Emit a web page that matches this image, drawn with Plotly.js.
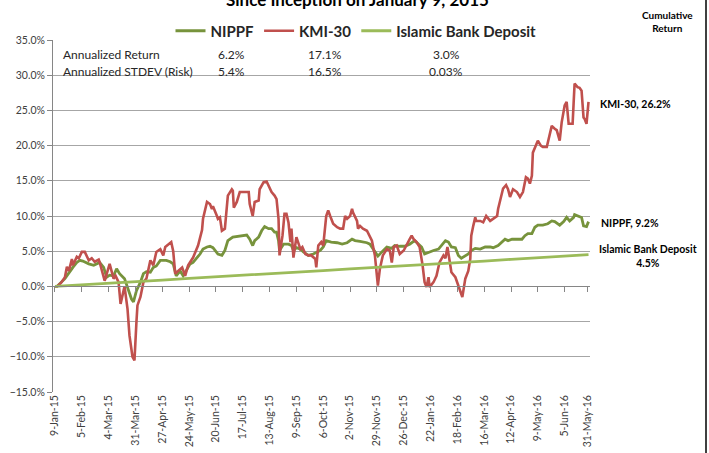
<!DOCTYPE html>
<html>
<head>
<meta charset="utf-8">
<script src="https://cdn.plot.ly/plotly-3.0.1.min.js"></script>
<style>html,body{margin:0;padding:0;background:#fff;}#chart{width:709px;height:453px;}</style>
</head>
<body>
<div id="chart"></div>
<script>
// ---- data (day offsets from 9-Jan-2015, cumulative return in %) ----
const tickDays = [0,27,54,81,108,135,162,189,216,243,270,297,324,351,378,405,432,459,486,513,536];
const tickLabels = ["9-Jan-15","5-Feb-15","4-Mar-15","31-Mar-15","27-Apr-15","24-May-15","20-Jun-15","17-Jul-15","13-Aug-15","9-Sep-15","6-Oct-15","2-Nov-15","29-Nov-15","26-Dec-15","22-Jan-16","18-Feb-16","16-Mar-16","12-Apr-16","9-May-16","5-Jun-16","31-May-16"];

const kmiDays = [0,2,6,10,12,14,17,18,22,24,27,30,34,37,40,44,45,50,55,59,61,64,66,68,70,73,75,78,80,82,83,86,89,92,96,99,102,106,109,111,114,117,119,121,124,128,131,134,139,144,148,149,153,156,158,159,163,164,166,168,171,173,174,178,179,180,183,186,190,195,196,199,201,205,206,210,213,215,218,221,223,225,226,229,231,233,235,237,238,240,242,243,247,249,252,255,258,262,263,265,268,270,273,275,277,280,284,287,290,292,294,297,299,300,304,305,307,310,314,317,319,322,324,325,327,330,334,337,339,341,344,347,351,354,357,359,361,364,367,370,372,374,376,377,381,384,387,391,393,395,397,399,403,406,409,410,413,416,418,419,421,423,424,428,431,434,438,441,445,446,448,451,454,456,458,461,465,468,471,474,476,478,480,481,484,486,489,491,495,498,500,503,505,508,510,513,515,517,521,522,523,526,528,530,532,533,535,537];
const kmiValues = [0.0,0.0,0.5,1.3,2.8,2.2,3.9,3.0,4.2,4.0,4.9,4.9,3.7,4.0,3.5,3.8,3.4,0.8,3.2,1.1,1.5,0.6,-2.5,-1.1,0.0,-3.2,-7.0,-10.0,-10.5,-5.0,-2.7,-1.5,0.6,1.1,3.7,3.0,4.9,5.3,4.4,5.6,6.0,6.3,5.0,1.8,2.2,2.7,1.5,3.0,4.1,5.8,8.0,9.6,12.0,11.7,11.0,11.4,10.0,9.6,9.8,7.9,8.2,11.0,12.9,13.8,13.6,11.2,12.0,13.4,13.4,13.4,11.7,10.0,12.0,12.2,13.8,14.8,14.9,14.3,13.4,12.9,12.4,9.6,4.4,7.2,10.3,10.3,9.1,6.3,8.2,4.1,5.8,7.0,5.3,5.6,4.6,4.4,4.4,3.9,2.7,5.8,6.3,5.8,10.0,10.8,10.0,8.9,8.4,8.2,8.2,10.0,9.6,10.0,11.0,10.5,9.3,8.2,8.6,8.2,7.9,7.0,6.5,4.4,1.5,0.1,2.5,4.4,5.3,5.1,3.4,5.6,5.8,4.6,5.1,5.8,6.7,7.2,6.7,6.3,5.6,3.0,0.6,-0.1,1.3,-0.1,0.6,1.5,3.4,4.4,4.0,5.6,4.0,2.0,1.3,0.1,-1.1,-1.5,1.1,2.2,3.9,7.2,8.6,9.8,9.3,9.3,9.1,10.0,9.3,9.6,10.0,11.0,12.2,13.9,14.4,13.8,12.7,13.8,13.4,12.7,13.4,15.5,15.3,14.6,15.7,19.0,20.0,20.7,20.0,19.8,19.8,21.9,22.8,22.4,22.2,20.7,23.3,25.7,26.2,23.1,23.1,26.0,28.8,28.3,28.2,27.8,24.0,23.8,23.1,26.2];

const nippfDays = [0,2,10,15,18,22,25,28,34,39,42,45,49,52,55,59,62,65,70,74,77,79,82,86,89,92,96,99,102,106,109,112,116,119,122,126,129,133,136,139,143,146,149,153,156,159,164,168,171,174,179,184,190,193,196,199,201,205,208,211,215,218,221,223,225,226,230,235,238,240,243,247,250,255,260,263,267,270,273,278,284,289,294,299,302,307,314,317,320,324,325,329,334,339,342,347,352,357,362,366,369,372,377,381,386,389,393,396,399,403,406,409,413,416,419,423,428,433,438,441,446,450,453,456,460,465,470,473,476,480,483,486,491,496,500,503,507,508,512,515,518,522,523,527,530,532,533,535,537];
const nippfValues = [0.0,0.0,1.1,2.2,2.7,3.4,3.7,3.6,3.2,3.0,3.2,3.4,2.7,1.3,1.6,1.5,2.5,1.8,1.1,-0.6,-1.8,-2.2,-0.6,0.6,1.8,2.1,2.0,2.7,2.9,3.7,3.7,3.7,3.5,3.2,1.5,2.2,1.5,2.5,3.2,3.4,4.1,4.6,5.3,5.6,5.7,5.5,4.6,4.4,5.1,6.5,7.0,7.1,7.3,7.3,6.7,5.8,6.5,7.0,7.9,8.5,8.2,8.2,7.7,7.7,6.5,5.1,6.0,6.0,5.8,5.1,5.5,5.3,4.9,4.4,4.6,4.8,5.1,5.6,6.5,6.3,6.2,6.0,6.2,6.7,6.5,6.4,6.2,6.0,5.3,4.4,4.3,4.9,5.6,5.4,5.8,5.7,5.7,6.0,6.5,6.0,5.6,4.6,4.9,5.1,5.3,5.8,6.5,6.3,5.6,5.5,4.4,4.0,4.4,4.6,5.1,5.4,5.3,5.6,5.6,5.5,5.8,6.4,6.7,6.5,6.7,6.7,6.7,7.2,7.5,7.5,8.4,8.7,8.7,8.9,9.3,9.2,8.7,8.7,9.2,9.8,9.3,9.8,10.2,10.0,9.8,8.6,8.6,8.5,9.2];

const depositDays = [0,27,54,81,108,135,162,189,216,243,270,297,324,351,378,405,432,459,486,513,537];
const depositValues = [0.0,0.2,0.45,0.7,0.9,1.15,1.35,1.6,1.8,2.05,2.25,2.5,2.7,2.95,3.15,3.4,3.6,3.85,4.05,4.3,4.5];

const seriesNames = ["NIPPF","KMI-30","Islamic Bank Deposit"];
const tableRows = ["Annualized Return","Annualized STDEV (Risk)"];
const tableValues = [["6.2%","17.1%","3.0%"],["5.4%","16.5%","0.03%"]];
const endLabels = ["KMI-30, 26.2%","NIPPF, 9.2%","Islamic Bank Deposit<br>4.5%"];

// ---- chart ----
const FONT = "Lato, 'Open Sans', sans-serif";
const traces = [
  {x: nippfDays, y: nippfValues, name: seriesNames[0], type: "scatter", mode: "lines",
   line: {color: "#77933C", width: 2.8}, xaxis: "x", yaxis: "y"},
  {x: kmiDays, y: kmiValues, name: seriesNames[1], type: "scatter", mode: "lines",
   line: {color: "#C0504D", width: 2.6}, xaxis: "x", yaxis: "y"},
  {x: depositDays, y: depositValues, name: seriesNames[2], type: "scatter", mode: "lines",
   line: {color: "#9BBB59", width: 2.8}, xaxis: "x2", yaxis: "y"}
];

const L = 53, T = 40, W = 537, H = 352;
const px = v => (v - L) / W;        // pixel x -> paper
const py = v => (T + H - v) / H;     // pixel y -> paper

const annotations = [
  {text: "<b>Since Inception on January 9, 2015</b>", xref: "paper", yref: "paper",
   x: px(357), y: py(-1), xanchor: "center", yanchor: "middle", showarrow: false,
   font: {family: FONT, size: 17, color: "#000"}},
  {text: "<b>Cumulative<br>Return</b>", xref: "paper", yref: "paper",
   x: px(667), y: py(21), xanchor: "center", yanchor: "middle", showarrow: false,
   font: {family: FONT, size: 10, color: "#000"}},
  {text: "<b>" + endLabels[0] + "</b>", xref: "paper", yref: "paper", x: px(598), y: py(103.5),
   xanchor: "left", yanchor: "middle", showarrow: false, font: {family: FONT, size: 10.5, color: "#000"}},
  {text: "<b>" + endLabels[1] + "</b>", xref: "paper", yref: "paper", x: px(599), y: py(222.5),
   xanchor: "left", yanchor: "middle", showarrow: false, font: {family: FONT, size: 10.5, color: "#000"}},
  {text: "<b>" + endLabels[2] + "</b>", xref: "paper", yref: "paper", x: px(648), y: py(256),
   xanchor: "center", yanchor: "middle", showarrow: false, font: {family: FONT, size: 10.5, color: "#000"}}
];
const rowY = [54, 71.5];
const colX = [231, 325, 446];
tableRows.forEach((r, i) => {
  annotations.push({text: r, xref: "paper", yref: "paper", x: px(61), y: py(rowY[i]),
    xanchor: "left", yanchor: "middle", showarrow: false, font: {family: FONT, size: 12, color: "#262626"}});
  tableValues[i].forEach((v, j) => {
    annotations.push({text: v, xref: "paper", yref: "paper", x: px(colX[j]), y: py(rowY[i]),
      xanchor: "center", yanchor: "middle", showarrow: false, font: {family: FONT, size: 12, color: "#262626"}});
  });
});

const layout = {
  width: 709, height: 453,
  margin: {l: L, r: 709 - L - W, t: T, b: 453 - T - H, autoexpand: false},
  paper_bgcolor: "#fff", plot_bgcolor: "#fff",
  showlegend: true,
  legend: {orientation: "h", x: px(356), y: py(31), xanchor: "center", yanchor: "middle",
    font: {family: FONT, size: 15, color: "#262626", weight: "bold"}, itemwidth: 30,
    bgcolor: "rgba(0,0,0,0)"},
  xaxis: {range: [-2, 538.5], tickvals: tickDays, ticktext: tickLabels, tickangle: -90,
    ticks: "", showgrid: false, zeroline: false, showline: false,
    tickfont: {family: FONT, size: 10.5, color: "#404040"}},
  xaxis2: {matches: "x", overlaying: "x", anchor: "free", position: 0.3, tickvals: tickDays,
    showticklabels: false, ticks: "outside", ticklen: 5, tickcolor: "#868686",
    showline: true, linecolor: "#868686", linewidth: 1, showgrid: false, zeroline: false},
  yaxis: {range: [-15, 35], dtick: 5, tick0: 0, tickformat: ".1f", ticksuffix: "%",
    showgrid: true, gridcolor: "#A6A6A6", gridwidth: 1, zeroline: false,
    showline: true, linecolor: "#868686", linewidth: 1,
    ticks: "outside", ticklen: 5, tickcolor: "#868686",
    tickfont: {family: FONT, size: 10.5, color: "#404040"}},
  annotations: annotations,
  shapes: [{type: "line", xref: "paper", yref: "paper", x0: px(706), x1: px(706), y0: py(470), y1: py(-20),
    line: {color: "#000", width: 1.5}}]
};

Plotly.newPlot("chart", traces, layout, {displayModeBar: false, staticPlot: true});
</script>
</body>
</html>
